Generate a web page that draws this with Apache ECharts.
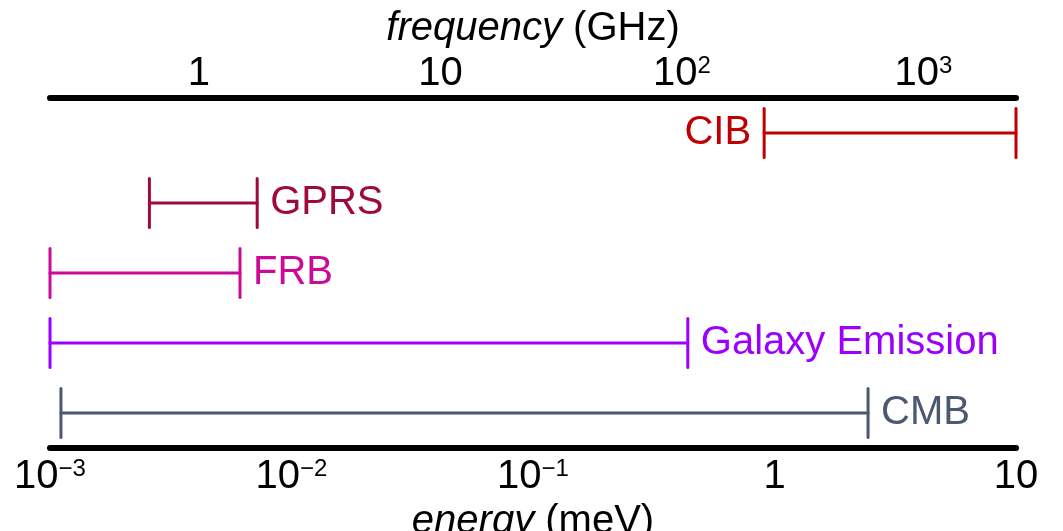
<!DOCTYPE html>
<html>
<head>
<meta charset="utf-8">
<title>Frequency / energy ranges</title>
<script src="https://cdn.jsdelivr.net/npm/echarts@6/dist/echarts.min.js"></script>
<style>
  html, body { margin: 0; padding: 0; background: #fff; }
  #chart { width: 1063px; height: 531px; }
</style>
</head>
<body>
<div id="chart"></div>
<script>
// ranges in energy (meV), bottom to top
var sources = ['CMB', 'Galaxy Emission', 'FRB', 'GPRS', 'CIB']
var lowMeV = [0.00111, 0.001, 0.001, 0.00258, 0.906]
var highMeV = [2.44, 0.4375, 0.00612, 0.00721, 10]

var energyTicks = [0.001, 0.01, 0.1, 1, 10]
var energyTickLabels = ['10{sup|\u22123}', '10{sup|\u22122}', '10{sup|\u22121}', '1', '10']
var freqTicks = [1, 10, 100, 1000]
var freqTickLabels = ['1', '10', '10{sup|2}', '10{sup|3}']

var GHZ_PER_MEV = 241.8

var colors = ['#4a5870', '#9b00ff', '#cc0a99', '#9e0a3c', '#c00000']
var labelLeft = [false, false, false, false, true]

var FONT = 'Liberation Sans'

function tickFormatter(ticks, labels) {
  return function(value) {
    for (var i = 0; i < ticks.length; i++) {
      if (Math.abs(Math.log10(value) - Math.log10(ticks[i])) < 0.01) {
        return labels[i]
      }
    }
    return ''
  }
}

var richSup = {
  sup: { fontSize: 24, fontFamily: FONT, color: '#000', verticalAlign: 'top', padding: [0, 0, 4, 0] }
}

var chart = echarts.init(document.getElementById('chart'))

chart.setOption({
  animation: false,
  textStyle: { fontFamily: FONT },
  grid: { left: 50, right: 47, top: 98, bottom: 83, containLabel: false, outerBoundsMode: 'none' },
  xAxis: [
    {
      type: 'log',
      position: 'bottom',
      min: energyTicks[0],
      max: energyTicks[energyTicks.length - 1],
      name: '{i|energy} (meV)',
      nameLocation: 'middle',
      nameGap: 46,
      nameTextStyle: {
        fontSize: 40, fontFamily: FONT, color: '#000',
        rich: { i: { fontSize: 40, fontFamily: FONT, fontStyle: 'italic', color: '#000' } }
      },
      axisLine: { show: true, onZero: false, lineStyle: { color: '#000', width: 6, cap: 'round' } },
      axisTick: { show: false },
      splitLine: { show: false },
      axisLabel: {
        fontSize: 40, color: '#000', margin: 9,
        formatter: tickFormatter(energyTicks, energyTickLabels),
        rich: richSup
      }
    },
    {
      type: 'log',
      position: 'top',
      min: energyTicks[0] * GHZ_PER_MEV,
      max: energyTicks[energyTicks.length - 1] * GHZ_PER_MEV,
      name: '{i|frequency} (GHz)',
      nameLocation: 'middle',
      nameGap: 35,
      nameTextStyle: {
        fontSize: 40, fontFamily: FONT, color: '#000',
        rich: { i: { fontSize: 40, fontFamily: FONT, fontStyle: 'italic', color: '#000' } }
      },
      axisLine: { show: true, onZero: false, lineStyle: { color: '#000', width: 6, cap: 'round' } },
      axisTick: { show: false },
      splitLine: { show: false },
      axisLabel: {
        fontSize: 40, color: '#000', margin: 4,
        showMinLabel: false, showMaxLabel: false,
        formatter: tickFormatter(freqTicks, freqTickLabels),
        rich: richSup
      }
    }
  ],
  yAxis: {
    type: 'category',
    data: sources,
    axisLine: { show: false },
    axisTick: { show: false },
    axisLabel: { show: false },
    splitLine: { show: false }
  },
  series: [{
    type: 'custom',
    xAxisIndex: 0,
    data: sources.map(function(name, i) { return [lowMeV[i], highMeV[i], i] }),
    renderItem: function(params, api) {
      var i = params.dataIndex
      var p0 = api.coord([api.value(0), api.value(2)])
      var p1 = api.coord([api.value(1), api.value(2)])
      var half = 24.5
      var line = { stroke: colors[i], lineWidth: 3, lineCap: 'round' }
      var gap = 13
      return {
        type: 'group',
        children: [
          { type: 'line', shape: { x1: p0[0], y1: p0[1], x2: p1[0], y2: p1[1] }, style: line },
          { type: 'line', shape: { x1: p0[0], y1: p0[1] - half, x2: p0[0], y2: p0[1] + half }, style: line },
          { type: 'line', shape: { x1: p1[0], y1: p1[1] - half, x2: p1[0], y2: p1[1] + half }, style: line },
          {
            type: 'text',
            x: labelLeft[i] ? p0[0] - gap : p1[0] + gap,
            y: p0[1],
            style: {
              text: sources[i],
              fill: colors[i],
              fontSize: 40,
              fontFamily: FONT,
              align: labelLeft[i] ? 'right' : 'left',
              verticalAlign: 'middle'
            }
          }
        ]
      }
    }
  }]
})
</script>
</body>
</html>
